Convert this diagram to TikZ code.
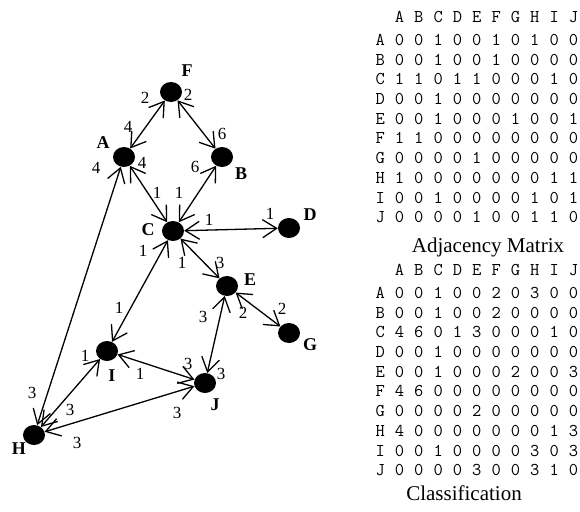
\documentclass[tikz,border=0pt]{standalone}
\usepackage{fontspec}
\setmainfont{Liberation Serif}
\usetikzlibrary{arrows.meta,shapes.geometric,matrix}
\begin{document}
\begin{tikzpicture}[x=1pt,y=-1pt,
  vertex/.style={ellipse,fill=black,minimum width=22pt,minimum height=20pt,inner sep=0pt},
  vname/.style={font=\fontsize{18}{18}\selectfont\bfseries,inner sep=0pt},
  wt/.style={font=\fontsize{17}{17}\selectfont,inner sep=0pt},
  tip/.tip={Straight Barb[length=14pt,width=18pt]},
  edge/.style={line width=1.3pt,tip-tip},
  cell/.style={font=\fontsize{18}{18}\selectfont\ttfamily,inner sep=0pt,
    text height=10.5pt,text depth=0pt,minimum width=19.33pt,minimum height=19.7pt},
  grid/.style={matrix of nodes,inner sep=0pt,anchor=north west,nodes={cell},
    column sep=0pt,row sep=0pt},
  caption/.style={font=\fontsize{21}{21}\selectfont,inner sep=0pt,anchor=base}]
\useasboundingbox (0,0) rectangle (580,511);

% vertices
\node[vertex] (F) at (171,92) {};
\node[vertex] (A) at (124,157) {};
\node[vertex] (B) at (222,157) {};
\node[vertex] (C) at (173,231) {};
\node[vertex] (D) at (289,228) {};
\node[vertex] (E) at (227,286) {};
\node[vertex] (G) at (289,333) {};
\node[vertex] (I) at (107,351) {};
\node[vertex] (J) at (205,383) {};
\node[vertex] (H) at (34,435) {};

% vertex names
\node[vname] (lF) at (187,71) {F};
\node[vname] (lA) at (103,143) {A};
\node[vname] (lB) at (241,174) {B};
\node[vname] (lC) at (148,230) {C};
\node[vname] (lD) at (310,215) {D};
\node[vname] (lE) at (250,280) {E};
\node[vname] (lG) at (310,345) {G};
\node[vname] (lI) at (112,376) {I};
\node[vname] (lJ) at (215,405) {J};
\node[vname] (lH) at (19,449) {H};

% connections
\draw[edge] (A) -- (F);
\draw[edge] (F) -- (B);
\draw[edge] (A) -- (C);
\draw[edge] (B) -- (C);
\draw[edge] (C) -- (D);
\draw[edge] (A) -- (H);
\draw[edge] (C) -- (I);
\draw[edge] (C) -- (E);
\draw[edge] (E) -- (J);
\draw[edge] (E) -- (G);
\draw[edge] (I) -- (J);
\draw[edge] (H) -- (I);
\draw[edge] (H) -- (J);

% weights at each end of the connections
\node[wt] (wFA) at (145,98) {2};
\node[wt] (wFB) at (188,95) {2};
\node[wt] (wAF) at (128,127) {4};
\node[wt] (wBF) at (222,134) {6};
\node[wt] (wAH) at (96,168) {4};
\node[wt] (wAC) at (142,163) {4};
\node[wt] (wBC) at (195,167) {6};
\node[wt] (wCA) at (157,193) {1};
\node[wt] (wCB) at (179,193) {1};
\node[wt] (wCD) at (209,220) {1};
\node[wt] (wDC) at (270,214) {1};
\node[wt] (wCI) at (143,251) {1};
\node[wt] (wCE) at (182,263) {1};
\node[wt] (wEC) at (220,263) {3};
\node[wt] (wEJ) at (203,317) {3};
\node[wt] (wEG) at (243,313) {2};
\node[wt] (wGE) at (282,309) {2};
\node[wt] (wIC) at (119,308) {1};
\node[wt] (wIH) at (85,356) {1};
\node[wt] (wIJ) at (140,374) {1};
\node[wt] (wJI) at (188,364) {3};
\node[wt] (wJE) at (221,374) {3};
\node[wt] (wHA) at (32,393) {3};
\node[wt] (wHI) at (70,410) {3};
\node[wt] (wJH) at (177,413) {3};
\node[wt] (wHJ) at (77,443) {3};

% adjacency matrix
\matrix (adj) [grid] at (370.33,7.15) {
  & A & B & C & D & E & F & G & H & I & J \\[3.3pt]
A & 0 & 0 & 1 & 0 & 0 & 1 & 0 & 1 & 0 & 0 \\
B & 0 & 0 & 1 & 0 & 0 & 1 & 0 & 0 & 0 & 0 \\
C & 1 & 1 & 0 & 1 & 1 & 0 & 0 & 0 & 1 & 0 \\
D & 0 & 0 & 1 & 0 & 0 & 0 & 0 & 0 & 0 & 0 \\
E & 0 & 0 & 1 & 0 & 0 & 0 & 1 & 0 & 0 & 1 \\
F & 1 & 1 & 0 & 0 & 0 & 0 & 0 & 0 & 0 & 0 \\
G & 0 & 0 & 0 & 0 & 1 & 0 & 0 & 0 & 0 & 0 \\
H & 1 & 0 & 0 & 0 & 0 & 0 & 0 & 0 & 1 & 1 \\
I & 0 & 0 & 1 & 0 & 0 & 0 & 0 & 1 & 0 & 1 \\
J & 0 & 0 & 0 & 0 & 1 & 0 & 0 & 1 & 1 & 0 \\
};
\node[caption] (adjcap) at (488,252) {Adjacency Matrix};

% classification matrix
\matrix (cls) [grid] at (370.33,260.15) {
  & A & B & C & D & E & F & G & H & I & J \\[3.3pt]
A & 0 & 0 & 1 & 0 & 0 & 2 & 0 & 3 & 0 & 0 \\
B & 0 & 0 & 1 & 0 & 0 & 2 & 0 & 0 & 0 & 0 \\
C & 4 & 6 & 0 & 1 & 3 & 0 & 0 & 0 & 1 & 0 \\
D & 0 & 0 & 1 & 0 & 0 & 0 & 0 & 0 & 0 & 0 \\
E & 0 & 0 & 1 & 0 & 0 & 0 & 2 & 0 & 0 & 3 \\
F & 4 & 6 & 0 & 0 & 0 & 0 & 0 & 0 & 0 & 0 \\
G & 0 & 0 & 0 & 0 & 2 & 0 & 0 & 0 & 0 & 0 \\
H & 4 & 0 & 0 & 0 & 0 & 0 & 0 & 0 & 1 & 3 \\
I & 0 & 0 & 1 & 0 & 0 & 0 & 0 & 3 & 0 & 3 \\
J & 0 & 0 & 0 & 0 & 3 & 0 & 0 & 3 & 1 & 0 \\
};
\node[caption] (clscap) at (464,500) {Classification};
\end{tikzpicture}
\end{document}
